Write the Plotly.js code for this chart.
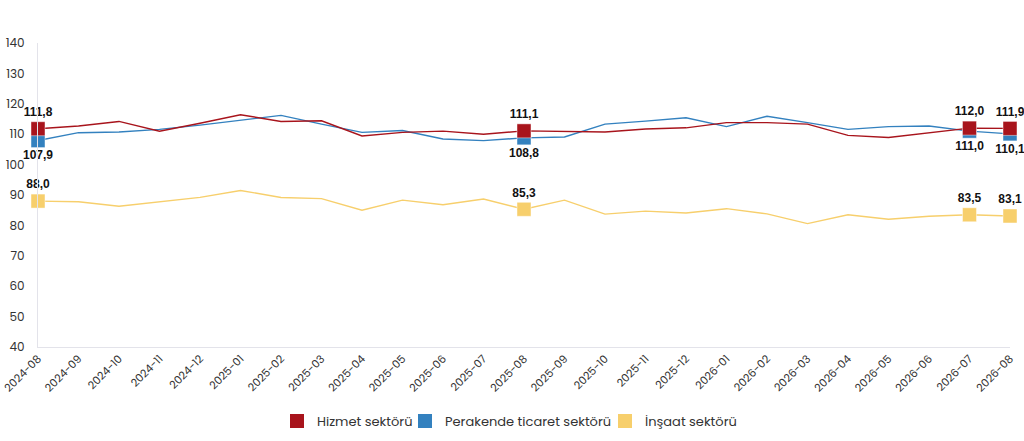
<!DOCTYPE html>
<html>
<head>
<meta charset="utf-8">
<script src="https://cdn.plot.ly/plotly-3.0.1.min.js"></script>
<style>
  html, body { margin: 0; padding: 0; background: #fff; }
  #chart { width: 1024px; height: 441px; }
</style>
</head>
<body>
<div id="chart"></div>
<script>
// months on the x axis
var months = [
    '2024-08', '2024-09', '2024-10', '2024-11', '2024-12',
    '2025-01', '2025-02', '2025-03', '2025-04', '2025-05', '2025-06', '2025-07',
    '2025-08', '2025-09', '2025-10', '2025-11', '2025-12',
    '2026-01', '2026-02', '2026-03', '2026-04', '2026-05', '2026-06', '2026-07', '2026-08'
];

// series values
var hizmet = [
    111.8, 112.7, 114.2, 111.0, 113.6, 116.4, 114.2, 114.4, 109.4, 110.6, 111.0, 110.0,
    111.1, 111.0, 110.7, 111.7, 112.1, 113.8, 113.8, 113.3, 109.6, 108.9, 110.5, 112.0, 111.9
];
var perakende = [
    107.9, 110.5, 110.7, 111.6, 113.0, 114.7, 116.2, 113.3, 110.6, 111.2, 108.4, 107.9,
    108.8, 109.1, 113.3, 114.3, 115.4, 112.5, 115.9, 113.8, 111.6, 112.5, 112.7, 111.0, 110.1
];
var insaat = [
    88.0, 87.8, 86.3, 87.7, 89.2, 91.5, 89.2, 88.8, 85.0, 88.3, 86.8, 88.7,
    85.3, 88.3, 83.7, 84.7, 84.1, 85.5, 83.8, 80.6, 83.5, 82.0, 83.0, 83.5, 83.1
];

// months that get a marker and a value label
var labelledMonths = ['2024-08', '2025-08', '2026-07', '2026-08'];

var yTicks = [40, 50, 60, 70, 80, 90, 100, 110, 120, 130, 140];

var redColor = '#a8141c';
var blueColor = '#3381bf';
var yellowColor = '#f7cf6c';


function markerSizes()
{
    return months.map(function(m) { return labelledMonths.includes(m) ? 14 : 0; });
}

function labelTexts(values)
{
    return months.map(function(m, i) {
        return labelledMonths.includes(m) ? values[i].toFixed(1).replace('.', ',') : '';
    });
}

function seriesTrace(name, values, color, textPos)
{
    return {
        x: months,
        y: values,
        name: name,
        type: 'scatter',
        mode: 'lines+markers+text',
        line: { color: color, width: 1.4 },
        // size array makes plotly treat it as a bubble chart, so force full opacity
        marker: {
            symbol: 'square', size: markerSizes(), color: color, opacity: 1,
            line: { width: 1, color: 'rgba(255,255,255,0.45)' }
        },
        text: labelTexts(values),
        textposition: textPos,
        textfont: { family: 'Liberation Sans, Arial, sans-serif', size: 12, color: '#111', weight: 'bold' },
        cliponaxis: false,
        showlegend: false,
        hoverinfo: 'x+y'
    };
}

// legend-only entries so the legend shows plain squares, one legend box each
function legendTrace(name, color, legendId)
{
    return {
        x: [null],
        y: [null],
        name: name,
        type: 'scatter',
        mode: 'markers',
        marker: { symbol: 'square', size: 14, color: color },
        legend: legendId,
        hoverinfo: 'skip'
    };
}

function legendBox(left)
{
    return {
        orientation: 'h',
        xref: 'container',
        x: left / 1024,
        xanchor: 'left',
        yref: 'container',
        y: 0.045,
        yanchor: 'middle',
        bgcolor: 'rgba(0,0,0,0)',
        font: { size: 13, color: '#333' },
        itemwidth: 30
    };
}

var plotlyData = [
    seriesTrace('Perakende ticaret sektörü', perakende, blueColor, 'bottom center'),
    seriesTrace('Hizmet sektörü', hizmet, redColor, 'top center'),
    seriesTrace('İnşaat sektörü', insaat, yellowColor, 'top center'),
    legendTrace('Hizmet sektörü', redColor, 'legend'),
    legendTrace('Perakende ticaret sektörü', blueColor, 'legend2'),
    legendTrace('İnşaat sektörü', yellowColor, 'legend3')
];

var plotlyLayout = {
    width: 1024,
    height: 441,
    margin: { l: 38, r: 14, t: 43, b: 94 },
    paper_bgcolor: '#ffffff',
    plot_bgcolor: '#ffffff',
    font: { family: 'Poppins, Lato, sans-serif', size: 12, color: '#333' },
    showlegend: true,
    legend: legendBox(277),
    legend2: legendBox(405),
    legend3: legendBox(605),
    xaxis: {
        type: 'category',
        range: [0, months.length - 1],
        tickangle: -45,
        showgrid: false,
        zeroline: false,
        showline: true,
        linecolor: '#e3e3ea',
        linewidth: 1,
        ticks: '',
        tickfont: { size: 11, color: '#333' },
        fixedrange: true
    },
    yaxis: {
        range: [40, 140],
        tickvals: yTicks,
        showgrid: false,
        zeroline: false,
        showline: true,
        linecolor: '#e3e3ea',
        linewidth: 1,
        ticks: '',
        ticklabelstandoff: 10,
        tickfont: { size: 12, color: '#333' },
        fixedrange: true
    }
};

var plotlyConfig = {
    displayModeBar: false,
    staticPlot: true
};

Plotly.newPlot('chart', plotlyData, plotlyLayout, plotlyConfig);
</script>
</body>
</html>
